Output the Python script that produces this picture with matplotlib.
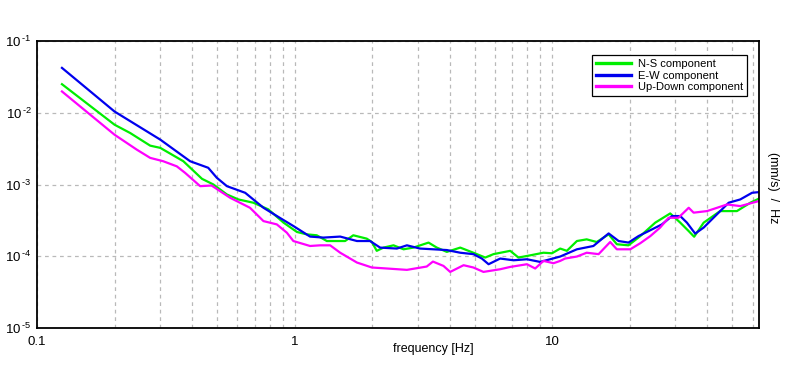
import math
import matplotlib
matplotlib.use("Agg")
import matplotlib.pyplot as plt
from matplotlib.ticker import FixedLocator, FuncFormatter, NullFormatter

plt.rcParams['font.family'] = ['Liberation Sans', 'DejaVu Sans']
plt.rcParams['mathtext.fontset'] = 'custom'
plt.rcParams['mathtext.rm'] = 'Liberation Sans'
plt.rcParams['mathtext.it'] = 'Liberation Sans'

# ---- data ----
ew_freq = [0.125, 0.200, 0.301, 0.393, 0.462, 0.499, 0.546, 0.643, 0.757, 0.88, 0.989,
           1.148, 1.294, 1.503, 1.746, 1.963, 2.148, 2.495, 2.729, 3.069, 3.899, 4.395,
           4.943, 5.333, 5.662, 6.281, 7.079, 7.980, 8.974, 9.817, 10.74, 12.47, 14.45,
           16.56, 18.11, 19.77, 21.63, 23.66, 26.67, 29.17, 31.41, 33.34, 35.89, 38.73,
           41.69, 48.42, 53.70, 59.70, 63.24]
ew_vals = [0.0422, 0.0104, 0.00422, 0.00211, 0.00171, 0.00124, 0.000948, 0.000766,
           0.000474, 0.000340, 0.000264, 0.000188, 0.000182, 0.000188, 0.000163, 0.000163,
           0.000132, 0.000128, 0.000142, 0.000128, 0.000122, 0.000112, 0.000107,
           0.0000929, 0.0000774, 0.0000929, 0.0000879, 0.0000908, 0.0000834, 0.0000908,
           0.0000991, 0.000125, 0.000139, 0.000208, 0.000163, 0.000155, 0.000191,
           0.000224, 0.000278, 0.000363, 0.000363, 0.000294, 0.000207, 0.000251,
           0.000327, 0.000557, 0.000619, 0.000767, 0.000782]

ns_freq = [0.125, 0.200, 0.230, 0.275, 0.301, 0.370, 0.437, 0.484, 0.546, 0.605, 0.692,
           0.791, 0.906, 1.021, 1.114, 1.219, 1.334, 1.570, 1.690, 1.905, 1.995, 2.084,
           2.213, 2.421, 2.649, 2.891, 3.311, 3.565, 3.899, 4.395, 4.943, 5.495, 5.916,
           6.871, 7.396, 8.222, 9.247, 9.977, 10.74, 11.40, 12.47, 13.61, 14.89, 16.56,
           17.82, 19.77, 21.98, 25.12, 28.71, 31.41, 33.88, 35.56, 38.73, 44.87, 52.12,
           58.75, 63.24]
ns_vals = [0.0250, 0.00681, 0.00522, 0.00348, 0.00324, 0.00211, 0.00120, 0.00100,
           0.000726, 0.000619, 0.000557, 0.000450, 0.000294, 0.000218, 0.000202,
           0.000196, 0.000163, 0.000163, 0.000196, 0.000176, 0.000158, 0.000119,
           0.000132, 0.000142, 0.000125, 0.000132, 0.000155, 0.000132, 0.000115,
           0.000132, 0.000112, 0.0000959, 0.000107, 0.000119, 0.0000959, 0.000103,
           0.000112, 0.000110, 0.000128, 0.000119, 0.000163, 0.000172, 0.000158,
           0.000202, 0.000147, 0.000142, 0.000191, 0.000294, 0.000395, 0.000294,
           0.000224, 0.000187, 0.000294, 0.000426, 0.000426, 0.000557, 0.000632]

ud_freq = [0.125, 0.200, 0.244, 0.275, 0.309, 0.349, 0.376, 0.430, 0.476, 0.562, 0.671,
           0.757, 0.853, 0.933, 0.989, 1.148, 1.256, 1.374, 1.503, 1.746, 1.995, 2.280,
           2.729, 3.258, 3.443, 3.784, 4.018, 4.529, 4.943, 5.408, 6.281, 6.871, 7.980,
           8.590, 9.247, 10.12, 10.74, 11.22, 12.47, 13.61, 15.14, 16.79, 17.82, 20.09,
           21.98, 24.04, 26.24, 28.31, 30.90, 33.88, 35.40, 39.90, 47.75, 53.70, 63.24]
ud_vals = [0.0198, 0.00494, 0.00306, 0.00235, 0.00211, 0.00179, 0.00145, 0.000948,
           0.000968, 0.000653, 0.000474, 0.000309, 0.000278, 0.000213, 0.000163,
           0.000139, 0.000142, 0.000142, 0.000112, 0.0000817, 0.0000697, 0.0000675,
           0.0000646, 0.0000719, 0.0000843, 0.0000733, 0.0000605, 0.0000750, 0.0000697,
           0.0000605, 0.0000659, 0.0000710, 0.0000774, 0.0000675, 0.0000861, 0.0000800,
           0.0000861, 0.0000929, 0.0000991, 0.000112, 0.000107, 0.000158, 0.000125,
           0.000125, 0.000152, 0.000191, 0.000251, 0.000344, 0.000344, 0.000474,
           0.000405, 0.000426, 0.000527, 0.000500, 0.000586]

series_labels = ["N-S component", "E-W component", "Up-Down component"]
series_colors = ["#00ee00", "#0000ee", "#ff00ff"]
x_ticks = [0.1, 1, 10]
x_tick_labels = ["0.1", "1", "10"]
y_exponents = [-1, -2, -3, -4, -5]

W, H = 796, 370
fig = plt.figure(figsize=(W / 100, H / 100), dpi=100)
ax = fig.add_axes([37 / W, 1 - 328 / H, (759 - 37) / W, (328 - 41) / H])

for f, v, lab, col in zip([ns_freq, ew_freq, ud_freq], [ns_vals, ew_vals, ud_vals],
                          series_labels, series_colors):
    ax.plot(f, v, color=col, lw=1.6, label=lab, solid_joinstyle='round')

ax.set_xscale('log')
ax.set_yscale('log')
ax.set_xlim(0.1, 63.5)
ax.set_ylim(1e-5, 1e-1)

ax.xaxis.set_major_locator(FixedLocator(x_ticks))
ax.xaxis.set_major_formatter(FuncFormatter(
    lambda v, p: x_tick_labels[x_ticks.index(v)] if v in x_ticks else ""))
minors = [m * d for d in (0.1, 1, 10) for m in range(2, 10) if m * d < 63.5]
ax.xaxis.set_minor_locator(FixedLocator(minors))
ax.xaxis.set_minor_formatter(NullFormatter())
ax.yaxis.set_major_locator(FixedLocator([10.0 ** e for e in y_exponents]))
ax.yaxis.set_major_formatter(FuncFormatter(
    lambda v, p: r"$\mathregular{10^{\,\text{-%d}}}$" % abs(round(math.log10(v)))))
ax.yaxis.set_minor_locator(FixedLocator([]))

ax.tick_params(which='both', length=0, labelsize=9.5)
ax.tick_params(axis='x', pad=6)
ax.tick_params(axis='y', pad=4)
ax.grid(True, which='major', axis='both', color='#b9b9b9', ls=(0, (3, 3)), lw=0.9)
ax.grid(True, which='minor', axis='x', color='#b9b9b9', ls=(0, (3, 3)), lw=0.9)
for s in ax.spines.values():
    s.set_linewidth(1.3)
    s.set_color('black')

leg = ax.legend(loc='upper right',
                bbox_to_anchor=((747 - 37) / (759 - 37), 1 - (55 - 41) / (328 - 41)),
                borderaxespad=0, fancybox=False, framealpha=1, edgecolor='black',
                fontsize=8, handlelength=3.2, handletextpad=0.6, labelspacing=0.15,
                borderpad=0.35)
leg.get_frame().set_linewidth(0.9)
for ln in leg.get_lines():
    ln.set_linewidth(2.4)

fig.text(433 / W, 1 - 349 / H, "frequency [Hz]", ha='center', va='center', fontsize=9)
fig.text(773 / W, 1 - 188 / H, "(mm/s)  /  Hz", ha='center', va='center', fontsize=9,
         rotation=-90)

fig.savefig("out.png", dpi=100)
